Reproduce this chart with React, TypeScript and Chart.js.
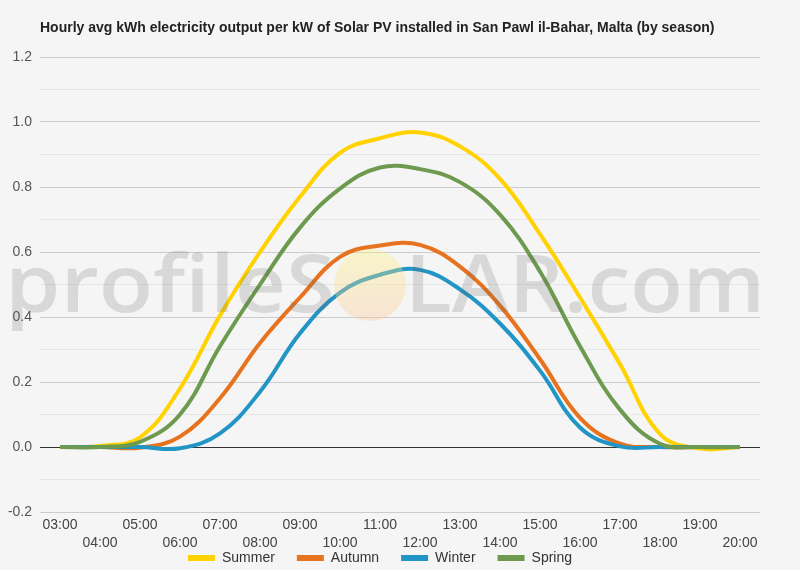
import React, { useRef, useEffect } from 'react';
import Chart from 'chart.js/auto';

const hours = ['03:00', '04:00', '05:00', '06:00', '07:00', '08:00', '09:00', '10:00', '11:00',
    '12:00', '13:00', '14:00', '15:00', '16:00', '17:00', '18:00', '19:00', '20:00'];

const summer = [0, 0.003, 0.03, 0.18, 0.405, 0.6, 0.77, 0.905, 0.95, 0.968, 0.925, 0.825, 0.655, 0.46, 0.255, 0.04, -0.005, 0];
const autumn = [0, 0, -0.002, 0.032, 0.15, 0.32, 0.46, 0.585, 0.62, 0.622, 0.555, 0.435, 0.27, 0.09, 0.01, 0, 0, 0];
const winter = [0, 0, 0, -0.004, 0.042, 0.17, 0.35, 0.475, 0.53, 0.545, 0.485, 0.38, 0.235, 0.06, 0.002, 0, 0, 0];
const spring = [0, 0, 0.016, 0.1, 0.31, 0.5, 0.675, 0.795, 0.86, 0.855, 0.815, 0.715, 0.54, 0.31, 0.115, 0.01, 0, 0];

const TITLE = 'Hourly avg kWh electricity output per kW of Solar PV installed in San Pawl il-Bahar, Malta (by season)';
const FONT = '"Liberation Sans", Arial, sans-serif';

// title + watermark drawn on the canvas
const decorPlugin = {
    id: 'decor',
    afterLayout: (chart: any) => {
        // nudge legend down a bit
        if (chart.legend) {
            chart.legend.top += 5;
            chart.legend.bottom += 5;
        }
        // let the x axis labels use the room under the legend line (label clip area)
        const x = chart.scales.x;
        if (x) {
            x.bottom = chart.height;
            x.height = x.bottom - x.top;
        }
    },
    beforeDraw: (chart: any) => {
        const { ctx } = chart;
        ctx.save();
        ctx.fillStyle = '#f5f5f5';
        ctx.fillRect(0, 0, chart.width, chart.height);
        ctx.font = 'bold 14px ' + FONT;
        ctx.fillStyle = '#222';
        ctx.textBaseline = 'middle';
        ctx.textAlign = 'left';
        ctx.fillText(TITLE, 40, 28);
        ctx.restore();
    },
    afterDraw: (chart: any) => {
        const { ctx } = chart;
        ctx.save();
        ctx.font = '600 80px "Open Sans", sans-serif';
        ctx.textBaseline = 'alphabetic';
        ctx.fillStyle = 'rgba(100,100,100,0.2)';
        const left = 'profileS';
        const right = 'LAR.com';
        const wl = ctx.measureText(left).width;
        const wr = ctx.measureText(right).width;
        ctx.save();
        ctx.translate(5, 312);
        ctx.scale(330 / wl, 1);
        ctx.fillText(left, 0, 0);
        ctx.restore();
        ctx.save();
        ctx.translate(405, 312);
        ctx.scale(360 / wr, 1);
        ctx.fillText(right, 0, 0);
        ctx.restore();
        const g = ctx.createLinearGradient(0, 249, 0, 321);
        g.addColorStop(0, 'rgba(255,245,120,0.35)');
        g.addColorStop(1, 'rgba(250,195,150,0.35)');
        ctx.fillStyle = g;
        ctx.beginPath();
        ctx.arc(370, 285, 36, 0, Math.PI * 2);
        ctx.fill();
        ctx.restore();
    }
};

const LineChart: React.FC = () => {
    const canvasRef = useRef<HTMLCanvasElement>(null);
    const chartRef = useRef<Chart>();

    useEffect(() => {
        if (!canvasRef.current) return;

        const line = (label: string, data: number[], color: string, order: number) => ({
            label,
            data,
            borderColor: color,
            backgroundColor: color,
            borderWidth: 4,
            pointRadius: 0,
            tension: 0.4,
            fill: false,
            order,
        });

        chartRef.current = new Chart(canvasRef.current, {
            type: 'line',
            data: {
                labels: hours,
                datasets: [
                    line('Summer', summer, '#FFD200', 4),
                    line('Autumn', autumn, '#E8731F', 3),
                    line('Winter', winter, '#2195C6', 2),
                    line('Spring', spring, '#6D9A4E', 1),
                ],
            },
            options: {
                animation: false,
                responsive: false,
                layout: { padding: { top: 57, right: 40, left: 0, bottom: 0 } },
                plugins: {
                    title: { display: false },
                    tooltip: { enabled: false },
                    legend: {
                        position: 'bottom',
                        labels: {
                            boxWidth: 27,
                            boxHeight: 6,
                            padding: 22,
                            color: '#333',
                            font: { size: 14, family: FONT },
                            generateLabels: (chart: any) => chart.data.datasets.map((ds: any, i: number) => ({
                                text: ds.label,
                                fillStyle: ds.borderColor,
                                strokeStyle: ds.borderColor,
                                lineWidth: 0,
                                hidden: false,
                                datasetIndex: i,
                                fontColor: '#333',
                            })),
                        },
                    },
                },
                scales: {
                    x: {
                        offset: true,
                        grid: { display: false, drawTicks: false },
                        border: { display: false },
                        afterFit: (scale: any) => { scale.height = 12; },
                        ticks: {
                            autoSkip: false,
                            maxRotation: 0,
                            padding: 4,
                            color: '#444',
                            font: { size: 14, family: FONT, lineHeight: 1.3 },
                            callback: (_v: any, i: number) => (i % 2 === 0 ? hours[i] : ['', hours[i]]),
                        },
                    },
                    y: {
                        min: -0.2,
                        max: 1.2,
                        border: { display: false },
                        afterFit: (scale: any) => { scale.width = 40; },
                        grid: {
                            drawTicks: false,
                            lineWidth: 1,
                            color: (c: any) => {
                                const n = Math.round((c.tick?.value ?? 0) * 10);
                                if (n === 0) return '#333';
                                return n % 2 === 0 ? '#cccccc' : '#e6e6e6';
                            },
                        },
                        ticks: {
                            stepSize: 0.1,
                            padding: 8,
                            color: '#555',
                            font: { size: 14, family: FONT },
                            callback: (v: any) => {
                                const n = Math.round(Number(v) * 10);
                                return n % 2 === 0 ? (n / 10).toFixed(1) : '';
                            },
                        },
                    },
                },
            } as any,
            plugins: [decorPlugin],
        });

        return () => {
            if (chartRef.current) {
                chartRef.current.destroy();
            }
        };
    }, []);

    return (
        <div style={{ position: 'absolute', left: 0, top: 0, width: 800, height: 570, background: '#f5f5f5' }}>
            <canvas ref={canvasRef} width={800} height={570} />
        </div>
    );
};

export default function App() {
    return <LineChart />;
}
